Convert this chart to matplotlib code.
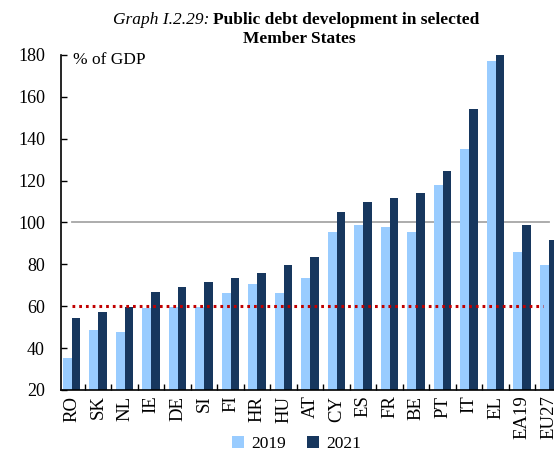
import numpy as np
import matplotlib
matplotlib.use("Agg")
import matplotlib.pyplot as plt

# data
countries = ['RO', 'SK', 'NL', 'IE', 'DE', 'SI', 'FI', 'HR', 'HU', 'AT',
             'CY', 'ES', 'FR', 'BE', 'PT', 'IT', 'EL', 'EA19', 'EU27']
debt_2019 = [35.1, 48.7, 47.8, 59.3, 59.6, 59.8, 66.5, 70.5, 66.5, 73.4,
             95.6, 98.8, 98.0, 95.6, 117.9, 135.1, 177.0, 86.0, 79.7]
debt_2021 = [54.2, 57.4, 59.8, 66.9, 69.3, 71.8, 73.4, 75.8, 79.8, 83.7,
             105.2, 109.9, 111.5, 113.9, 124.4, 154.3, 180.0, 98.8, 91.6]
maastricht_limit = 60
ref_level = 100

plt.rcParams['font.family'] = ['Liberation Serif', 'DejaVu Serif']

light = '#99CCFF'
dark = '#17375E'

fig = plt.figure(figsize=(5.54, 4.55), dpi=100)
ax = fig.add_axes([0.110, 0.1429, 0.890, 0.7363])

x = np.arange(len(countries))
w = 0.33
ax.bar(x - w / 2, debt_2019, width=w, color=light, label='2019', zorder=2)
ax.bar(x + w / 2, debt_2021, width=w, color=dark, label='2021', zorder=2)

ax.plot([x[0], x[-1]], [ref_level, ref_level], color='#A6A6A6', lw=1.3, zorder=1)
ax.plot([x[0], x[-1] - 0.2], [maastricht_limit, maastricht_limit], color='#C00000',
        lw=2.2, linestyle=(0, (0.9, 1.3)), zorder=3)

ax.set_xlim(-0.40, 18.2)
ax.set_ylim(20, 180)
ax.set_yticks(range(20, 181, 20))
ax.tick_params(axis='y', direction='in', length=4, labelsize=13, pad=11.5, width=1)
ax.set_xticks(x)
ax.set_xticklabels(countries, rotation=90, fontsize=13.5)
ax.tick_params(axis='x', length=0, pad=4)
ax.set_xticks(x[:-1] + 0.5, minor=True)
ax.tick_params(axis='x', which='minor', direction='in', length=4, width=1)

for s in ['top', 'right']:
    ax.spines[s].set_visible(False)
ax.spines['left'].set_linewidth(1.2)
ax.spines['bottom'].set_linewidth(1.2)

ax.text(0.025, 0.985, '% of GDP', transform=ax.transAxes, fontsize=12.5,
        va='center', ha='left')

fig.text(0.385, 0.957, 'Graph I.2.29: ', style='italic', fontsize=12.5,
         ha='right', va='center')
fig.text(0.385, 0.957, 'Public debt development in selected', weight='bold',
         fontsize=12.5, ha='left', va='center')
fig.text(0.54, 0.915, 'Member States', weight='bold', fontsize=12.5,
         ha='center', va='center')

fig.legend(loc='center', bbox_to_anchor=(0.535, 0.024), ncol=2, frameon=False,
           fontsize=12.5, handlelength=0.7, handleheight=0.7, handletextpad=0.4,
           columnspacing=1.2)

fig.savefig('out.png', dpi=100)
